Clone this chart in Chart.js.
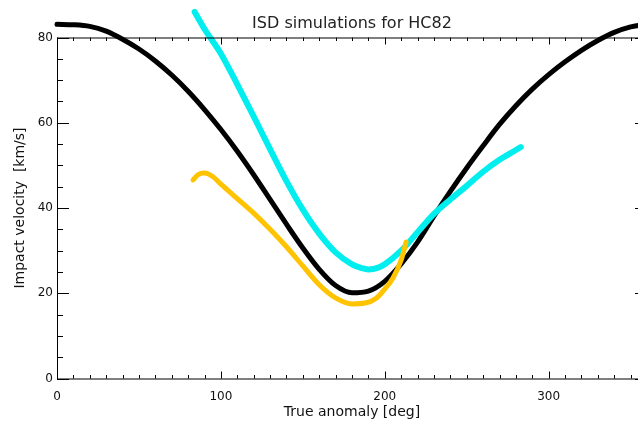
<!DOCTYPE html>
<html>
<head>
<meta charset="utf-8">
<script src="https://cdn.jsdelivr.net/npm/chart.js@4"></script>
<style>
  html, body { margin: 0; padding: 0; background: #fff; overflow: hidden; }
  #wrap { width: 650px; height: 425px; }
</style>
</head>
<body>
<div id="wrap"><canvas id="isdChart" width="650" height="425"></canvas></div>
<script>
// true anomaly [deg] / impact velocity [km/s]
const blackAngle = [0, 10, 20, 30, 40, 50, 60, 70, 80, 90, 100, 110, 120, 130, 140, 150, 160, 170, 180,
  190, 200, 210, 220, 230, 240, 250, 260, 270, 280, 290, 300, 310, 320, 330, 340, 350, 360];
const blackVel = [83.1, 83.0, 82.6, 81.5, 79.6, 77.3, 74.5, 71.2, 67.4, 63.1, 58.4, 53.3, 47.8, 42.0, 36.2, 30.6, 25.6, 21.8, 20.1,
  20.5, 22.8, 26.9, 32.0, 38.1, 43.9, 49.4, 54.6, 59.6, 64.0, 67.9, 71.3, 74.3, 77.0, 79.3, 81.2, 82.5, 83.1];

const cyanAngle = [84, 90, 100, 110, 120, 130, 140, 150, 160, 170, 180, 186, 190, 196, 200, 210, 220, 230, 240, 250, 260, 270, 280, 283];
const cyanVel = [86.0, 82.0, 76.2, 69.0, 61.5, 53.8, 46.3, 39.6, 34.0, 29.6, 26.8, 25.9, 25.6, 26.0, 26.8, 30.0, 34.3, 38.6, 42.0, 45.2, 48.5, 51.3, 53.6, 54.3];

const orangeAngle = [83, 86, 90, 95, 100, 110, 120, 130, 140, 150, 160, 170, 180, 188, 195, 200, 205, 210, 213];
const orangeVel = [46.6, 47.8, 48.2, 47.4, 45.6, 42.2, 38.8, 35.0, 30.9, 26.4, 22.0, 18.9, 17.5, 17.7, 18.9, 21.0, 23.6, 27.8, 32.0];

const xTickLabels = [0, 100, 200, 300];
const yTickLabels = [0, 20, 40, 60, 80];

function toPoints(xs, ys) {
  return xs.map((x, i) => ({ x: x, y: ys[i] }));
}

// IDL style box with inward ticks on all four sides
const boxTicks = {
  id: 'boxTicks',
  afterDraw(chart) {
    const { ctx, chartArea: a, scales: { x, y } } = chart;
    ctx.save();
    ctx.strokeStyle = '#000';
    ctx.lineWidth = 1;
    ctx.strokeRect(a.left + 0.5, a.top + 0.5, a.right - a.left, a.bottom - a.top);
    ctx.beginPath();
    for (let v = 0; v <= 360; v += 10) {
      const px = Math.round(x.getPixelForValue(v)) + 0.5;
      const len = v % 100 === 0 ? 7 : 3.5;
      ctx.moveTo(px, a.bottom); ctx.lineTo(px, a.bottom - len);
      ctx.moveTo(px, a.top); ctx.lineTo(px, a.top + len);
    }
    for (let v = 0; v <= 80; v += 5) {
      const py = Math.round(y.getPixelForValue(v)) + 0.5;
      const len = v % 20 === 0 ? 12 : 6;
      ctx.moveTo(a.left, py); ctx.lineTo(a.left + len, py);
      ctx.moveTo(a.right, py); ctx.lineTo(a.right - len, py);
    }
    ctx.stroke();
    ctx.restore();
  }
};

const ctx = document.getElementById('isdChart').getContext('2d');
new Chart(ctx, {
  type: 'line',
  data: {
    datasets: [
      {
        label: 'orange',
        data: toPoints(orangeAngle, orangeVel),
        borderColor: '#ffc300',
        borderWidth: 5
      },
      {
        label: 'cyan',
        data: toPoints(cyanAngle, cyanVel),
        borderColor: '#00eeee',
        borderWidth: 6
      },
      {
        label: 'black',
        data: toPoints(blackAngle, blackVel),
        borderColor: '#000',
        borderWidth: 5
      }
    ]
  },
  options: {
    responsive: false,
    animation: false,
    devicePixelRatio: 1,
    clip: false,
    layout: { padding: { left: 0, right: 3, top: 0, bottom: 0 } },
    elements: {
      point: { radius: 0 },
      line: { cubicInterpolationMode: 'monotone', fill: false, borderCapStyle: 'round' }
    },
    plugins: {
      legend: { display: false },
      tooltip: { enabled: false },
      title: {
        display: true,
        fullSize: false,
        text: 'ISD simulations for HC82',
        color: '#222',
        font: { family: 'DejaVu Sans', size: 16, weight: 'normal' },
        padding: { top: 14.4, bottom: 3.9 }
      }
    },
    scales: {
      x: {
        type: 'linear',
        min: 0,
        max: 360,
        grid: { display: false, drawTicks: false },
        border: { display: false },
        afterBuildTicks: (scale) => { scale.ticks = xTickLabels.map(v => ({ value: v })); },
        afterFit: (scale) => { scale.height = 46.5; },
        ticks: {
          color: '#111',
          padding: 11,
          maxRotation: 0,
          font: { family: 'DejaVu Sans', size: 12 }
        },
        title: {
          display: true,
          text: 'True anomaly [deg]',
          color: '#111',
          font: { family: 'DejaVu Sans', size: 14 },
          padding: { top: 0, bottom: 4 }
        }
      },
      y: {
        type: 'linear',
        min: 0,
        max: 80,
        grid: { display: false, drawTicks: false },
        border: { display: false },
        afterBuildTicks: (scale) => { scale.ticks = yTickLabels.map(v => ({ value: v })); },
        afterFit: (scale) => { scale.width = 57; },
        ticks: {
          color: '#111',
          padding: 4,
          font: { family: 'DejaVu Sans', size: 12 }
        },
        title: {
          display: true,
          text: 'Impact velocity  [km/s]',
          color: '#111',
          font: { family: 'DejaVu Sans', size: 14 },
          padding: { top: 12, bottom: 0 }
        }
      }
    }
  },
  plugins: [boxTicks]
});
</script>
</body>
</html>
